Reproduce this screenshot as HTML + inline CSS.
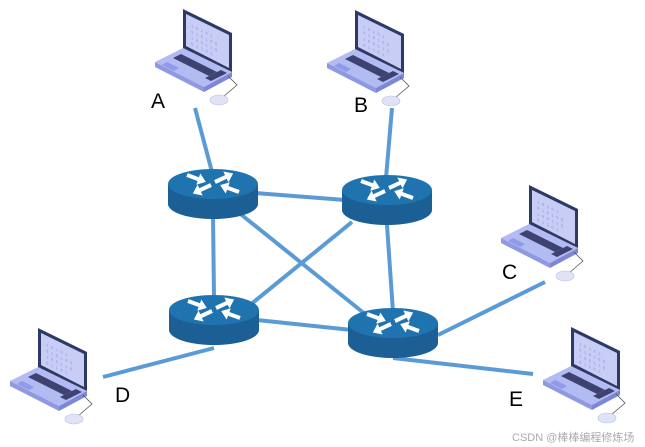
<!DOCTYPE html>
<html><head><meta charset="utf-8"><style>
html,body{margin:0;padding:0;background:#fff;}
svg{display:block;}
</style></head><body>
<svg width="645" height="447" viewBox="0 0 645 447" xmlns="http://www.w3.org/2000/svg">
<defs>
<g id="lap">
  <polygon points="0,39 49,63 21,78 -28,53" fill="#b3bbf3"/>
  <polygon points="-28,53 21,78 21,83 -28,58" fill="#8f99e2"/>
  <polygon points="21,78 49,63 49,68 21,83" fill="#7d87d6"/>
  <polygon points="-2,45 34,63 26,67 -10,49" fill="#3d4270"/>
  <polygon points="-16,53 -4,59 -9,62 -21,56" fill="#8f9ae8"/>
  <polygon points="14,67 34,63 40,65 20,71" fill="#3d4270" opacity="0"/>
  <polygon points="22,69 38,61 44,64 28,72" fill="#3d4270"/>
  <polygon points="0,0 49,24 49,63 0,39" fill="#2e3a66"/>
  <polygon points="3,5 46,26 46,59 3,37" fill="#c8cdf6"/>
  <g fill="#8e98de" font-size="4" font-family="Liberation Mono, monospace">
    <text x="8" y="14" transform="skewY(26)">1 0 1 0 1</text>
    <text x="8" y="20" transform="skewY(26)">0 1 0 1 0 0</text>
    <text x="8" y="26" transform="skewY(26)">1 0 0 1 1 0</text>
    <text x="8" y="32" transform="skewY(26)">0 1 1 0 1</text>
  </g>
  <path d="M45,67 L54,76 L40,88" stroke="#555" stroke-width="0.8" fill="none"/>
  <ellipse cx="36" cy="91" rx="9" ry="5" fill="#dfe3f5" stroke="#b8bfe0" stroke-width="0.6"/>
</g>
<g id="ar">
  <!-- arrow pointing to +x, tail at 0 -->
  <polygon points="0,-2 12,-2 12,-6 20,0 12,6 12,2 0,2" fill="#fff"/>
</g>
<g id="rt">
  <path d="M-45,0 L-45,20 A45,15 0 0 0 45,20 L45,0 Z" fill="#1b5f94"/>
  <ellipse cx="0" cy="0" rx="45" ry="15" fill="#1f74b0"/>
  <use href="#ar" transform="translate(-26,-9) rotate(20)"/>
  <use href="#ar" transform="translate(2,-2) rotate(-25)"/>
  <use href="#ar" transform="translate(-2,1) rotate(155)"/>
  <use href="#ar" transform="translate(26,8) rotate(200)"/>
</g>
</defs>
<g stroke="#5b9bd5" stroke-width="4" stroke-linecap="butt">
  <line x1="195" y1="108" x2="212" y2="172"/>
  <line x1="392" y1="108" x2="386" y2="178"/>
  <line x1="255" y1="193" x2="345" y2="200"/>
  <line x1="213" y1="215" x2="214" y2="298"/>
  <line x1="238" y1="212" x2="370" y2="318"/>
  <line x1="352" y1="222" x2="250" y2="305"/>
  <line x1="387" y1="225" x2="393" y2="312"/>
  <line x1="257" y1="320" x2="352" y2="330"/>
  <line x1="438" y1="335" x2="545" y2="282"/>
  <line x1="103" y1="377" x2="214" y2="348"/>
  <line x1="393" y1="358" x2="533" y2="374"/>
</g>
<use href="#rt" x="213" y="184"/>
<use href="#rt" x="387" y="190"/>
<use href="#rt" x="214" y="310"/>
<use href="#rt" x="393" y="323"/>
<use href="#lap" x="183" y="9"/>
<use href="#lap" x="355" y="10"/>
<use href="#lap" x="529" y="185"/>
<use href="#lap" x="38" y="328"/>
<use href="#lap" x="571" y="327"/>
<g font-family="Liberation Sans, sans-serif" font-size="21" fill="#000">
  <text x="151" y="108">A</text>
  <text x="354" y="112">B</text>
  <text x="502" y="279">C</text>
  <text x="115" y="402">D</text>
  <text x="509" y="406">E</text>
</g>
<text x="512" y="441" font-family="Liberation Sans, 'Noto Sans CJK SC', sans-serif" font-size="11" fill="#aaa">CSDN @棒棒编程修炼场</text>
</svg>
</body></html>
